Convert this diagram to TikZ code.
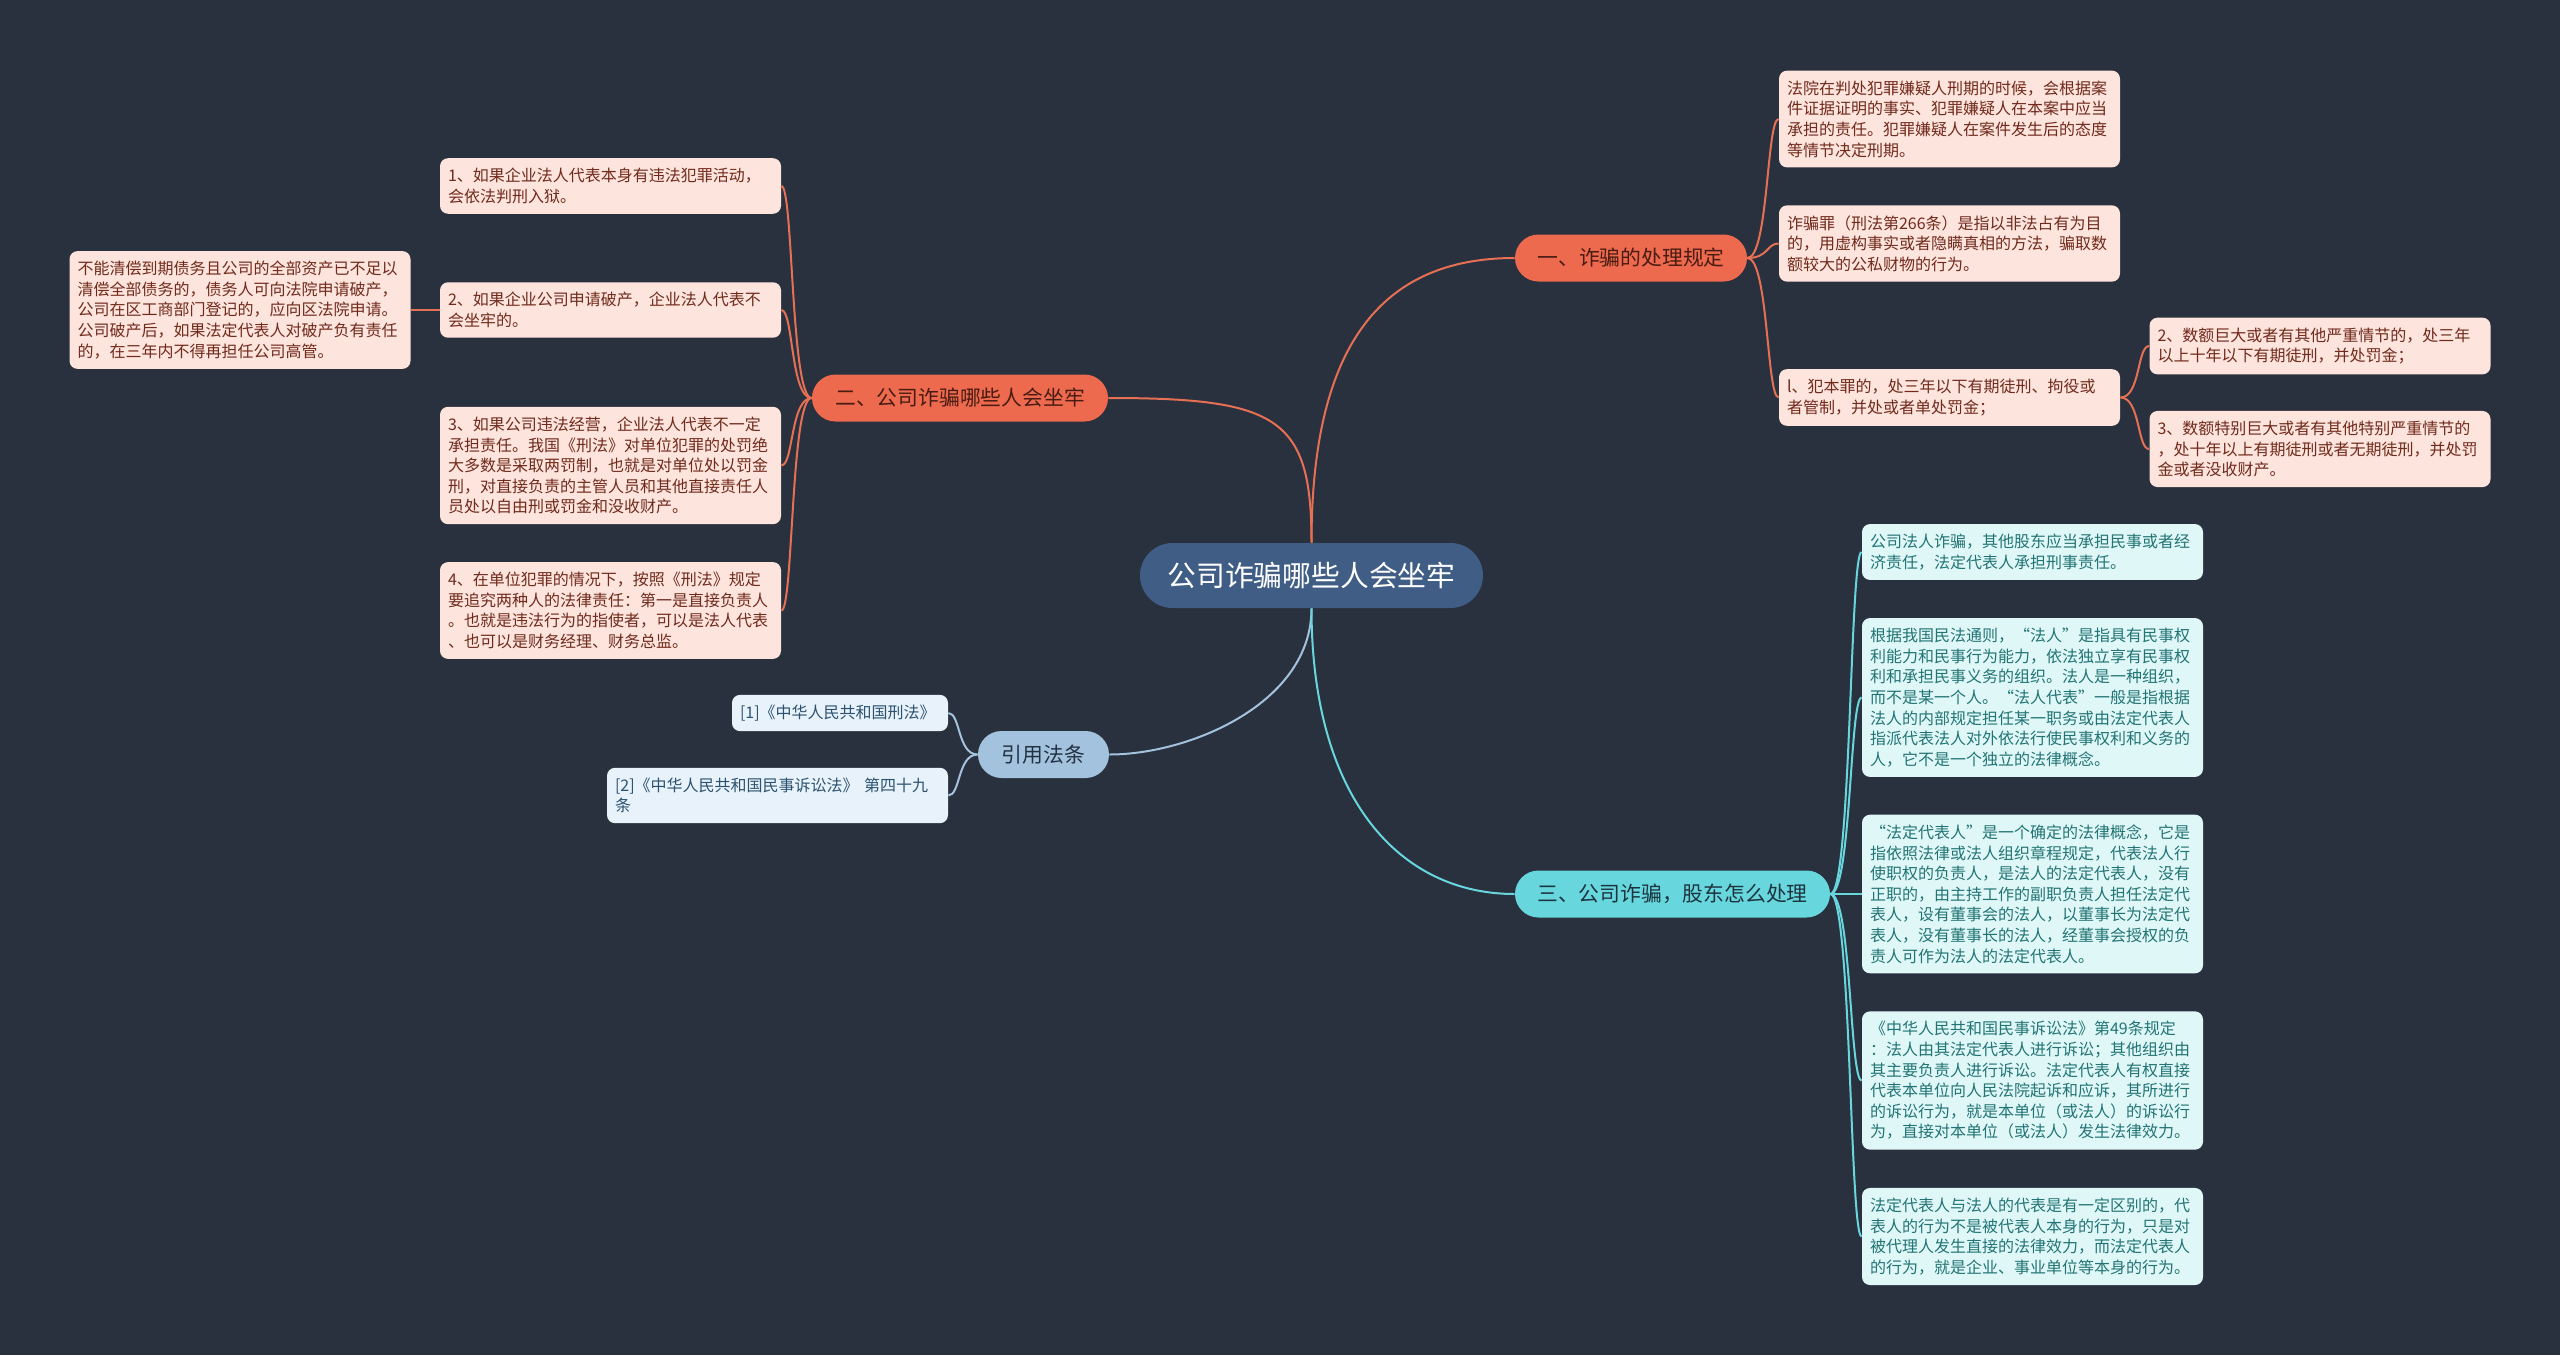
\documentclass[tikz,border=0pt]{standalone}
\usepackage{fontspec}
\setmainfont{Noto Sans CJK SC}
\definecolor{bg}{RGB}{41,48,62}
\definecolor{rootfill}{RGB}{64,94,133}
\definecolor{orangefill}{RGB}{238,106,78}
\definecolor{orangeline}{RGB}{230,112,84}
\definecolor{orangetext}{RGB}{72,28,18}
\definecolor{cyanfill}{RGB}{104,214,221}
\definecolor{cyanline}{RGB}{104,214,221}
\definecolor{cyantext}{RGB}{28,52,62}
\definecolor{bluefill}{RGB}{163,194,221}
\definecolor{blueline}{RGB}{163,194,221}
\definecolor{bluetext}{RGB}{34,50,66}
\definecolor{pinkfill}{RGB}{253,228,220}
\definecolor{pinktext}{RGB}{112,42,28}
\definecolor{lcyanfill}{RGB}{224,247,248}
\definecolor{lcyantext}{RGB}{34,116,116}
\definecolor{citefill}{RGB}{232,242,250}
\definecolor{citetext}{RGB}{44,82,112}
\begin{document}
\begin{tikzpicture}[x=0.5pt,y=-0.5pt,
  leafbox/.style={rounded corners=4pt, inner xsep=4pt, inner ysep=5pt,
    text width=162.5pt, align=left, font=\fontsize{8pt}{10.3pt}\selectfont},
  pinkleaf/.style={leafbox, fill=pinkfill, text=pinktext},
  cyanleaf/.style={leafbox, fill=lcyanfill, text=lcyantext},
  citeleaf/.style={leafbox, fill=citefill, text=citetext},
  branchbox/.style={rounded corners=11.75pt, inner sep=0pt, minimum height=23.5pt,
    align=center, font=\fontsize{10.4pt}{12pt}\selectfont},
  orangebranch/.style={branchbox, fill=orangefill, text=orangetext},
  cyanbranch/.style={branchbox, fill=cyanfill, text=cyantext},
  bluebranch/.style={branchbox, fill=bluefill, text=bluetext},
  rootbox/.style={rounded corners=16.25pt, inner sep=0pt, minimum width=171.5pt,
    minimum height=32.5pt, fill=rootfill, text=white, font=\fontsize{14.4pt}{17pt}\selectfont},
  oline/.style={draw=orangeline, line width=1pt},
  cline/.style={draw=cyanline, line width=1pt},
  bline/.style={draw=blueline, line width=1pt}
]
\fill[bg] (0,0) rectangle (2560,1355);
\useasboundingbox (0,0) rectangle (2560,1355);

% root
\node[rootbox] (root) at (1311.5,575.5) {公司诈骗哪些人会坐牢};

% branches
\node[orangebranch, minimum width=116pt] (b1) at (1631,258) {一、诈骗的处理规定};
\node[orangebranch, minimum width=148pt] (b2) at (960,398) {二、公司诈骗哪些人会坐牢};
\node[bluebranch, minimum width=65.5pt] (b3) at (1043.5,754.5) {引用法条};
\node[cyanbranch, minimum width=157.5pt] (b4) at (1672.5,894) {三、公司诈骗，股东怎么处理};

% branch 1 leaves
\node[pinkleaf] (l1a) at (1949.5,119) {法院在判处犯罪嫌疑人刑期的时候，会根据案\\件证据证明的事实、犯罪嫌疑人在本案中应当\\承担的责任。犯罪嫌疑人在案件发生后的态度\\等情节决定刑期。};
\node[pinkleaf] (l1b) at (1949.5,243.5) {诈骗罪（刑法第266条）是指以非法占有为目\\的，用虚构事实或者隐瞒真相的方法，骗取数\\额较大的公私财物的行为。};
\node[pinkleaf] (l1c) at (1949.5,397.5) {l、犯本罪的，处三年以下有期徒刑、拘役或\\者管制，并处或者单处罚金；};
\node[pinkleaf] (l1c1) at (2320,346) {2、数额巨大或者有其他严重情节的，处三年\\以上十年以下有期徒刑，并处罚金；};
\node[pinkleaf] (l1c2) at (2320,449) {3、数额特别巨大或者有其他特别严重情节的\\，处十年以上有期徒刑或者无期徒刑，并处罚\\金或者没收财产。};

% branch 2 leaves
\node[pinkleaf] (l2a) at (610.5,186) {1、如果企业法人代表本身有违法犯罪活动，\\会依法判刑入狱。};
\node[pinkleaf] (l2b) at (610.5,310) {2、如果企业公司申请破产，企业法人代表不\\会坐牢的。};
\node[pinkleaf] (l2c) at (610.5,465.5) {3、如果公司违法经营，企业法人代表不一定\\承担责任。我国《刑法》对单位犯罪的处罚绝\\大多数是采取两罚制，也就是对单位处以罚金\\刑，对直接负责的主管人员和其他直接责任人\\员处以自由刑或罚金和没收财产。};
\node[pinkleaf] (l2d) at (610.5,610.5) {4、在单位犯罪的情况下，按照《刑法》规定\\要追究两种人的法律责任：第一是直接负责人\\。也就是违法行为的指使者，可以是法人代表\\、也可以是财务经理、财务总监。};
\node[pinkleaf] (l2bx) at (240,310) {不能清偿到期债务且公司的全部资产已不足以\\清偿全部债务的，债务人可向法院申请破产，\\公司在区工商部门登记的，应向区法院申请。\\公司破产后，如果法定代表人对破产负有责任\\的，在三年内不得再担任公司高管。};

% branch 3 leaves
\node[citeleaf, text width=100pt] (c1) at (840,713) {[1]《中华人民共和国刑法》};
\node[citeleaf] (c2) at (777.5,795.5) {[2]《中华人民共和国民事诉讼法》 第四十九\\条};

% branch 4 leaves
\node[cyanleaf] (r1) at (2032.5,552) {公司法人诈骗，其他股东应当承担民事或者经\\济责任，法定代表人承担刑事责任。};
\node[cyanleaf] (r2) at (2032.5,697.5) {根据我国民法通则，“法人”是指具有民事权\\利能力和民事行为能力，依法独立享有民事权\\利和承担民事义务的组织。法人是一种组织，\\而不是某一个人。“法人代表”一般是指根据\\法人的内部规定担任某一职务或由法定代表人\\指派代表法人对外依法行使民事权利和义务的\\人，它不是一个独立的法律概念。};
\node[cyanleaf] (r3) at (2032.5,894) {“法定代表人”是一个确定的法律概念，它是\\指依照法律或法人组织章程规定，代表法人行\\使职权的负责人，是法人的法定代表人，没有\\正职的，由主持工作的副职负责人担任法定代\\表人，设有董事会的法人，以董事长为法定代\\表人，没有董事长的法人，经董事会授权的负\\责人可作为法人的法定代表人。};
\node[cyanleaf] (r4) at (2032.5,1080.5) {《中华人民共和国民事诉讼法》第49条规定\\：法人由其法定代表人进行诉讼；其他组织由\\其主要负责人进行诉讼。法定代表人有权直接\\代表本单位向人民法院起诉和应诉，其所进行\\的诉讼行为，就是本单位（或法人）的诉讼行\\为，直接对本单位（或法人）发生法律效力。};
\node[cyanleaf] (r5) at (2032.5,1236.5) {法定代表人与法人的代表是有一定区别的，代\\表人的行为不是被代表人本身的行为，只是对\\被代理人发生直接的法律效力，而法定代表人\\的行为，就是企业、事业单位等本身的行为。};

% root connectors
\draw[oline] (root.north) .. controls +(0,-195) and +(-135,0) .. (b1.west);
\draw[oline] (root.north) .. controls +(0,-125) and +(170,0) .. (b2.east);
\draw[bline] (root.south) .. controls +(0,95) and +(80,0) .. (b3.east);
\draw[cline] (root.south) .. controls +(0,190) and +(-115,0) .. (b4.west);

% branch 1 connectors
\foreach \n in {l1a,l1b,l1c}
  \draw[oline] (b1.east) .. controls +(21,0) and +(-12,0) .. (\n.west);
\foreach \n in {l1c1,l1c2}
  \draw[oline] (l1c.east) .. controls +(20,0) and +(-12,0) .. (\n.west);

% branch 2 connectors
\foreach \n in {l2a,l2b,l2c,l2d}
  \draw[oline] (b2.west) .. controls +(-21,0) and +(12,0) .. (\n.east);
\draw[oline] (l2b.west) -- (l2bx.east);

% branch 3 connectors
\foreach \n in {c1,c2}
  \draw[bline] (b3.west) .. controls +(-20,0) and +(12,0) .. (\n.east);

% branch 4 connectors
\foreach \n in {r1,r2,r3,r4,r5}
  \draw[cline] (b4.east) .. controls +(21,0) and +(-12,0) .. (\n.west);
\end{tikzpicture}
\end{document}
